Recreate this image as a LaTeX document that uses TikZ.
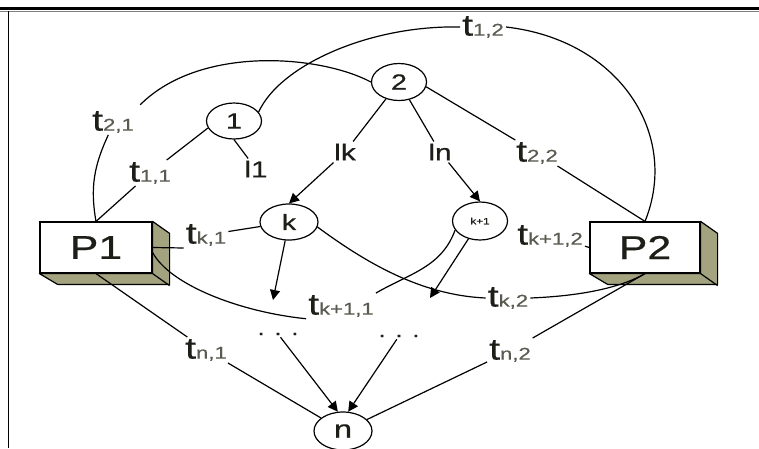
\documentclass[tikz,border=0pt]{standalone}
\usepackage{fontspec}
\setmainfont{Liberation Sans}
\newfontfamily\labfont[FakeStretch=1.3,FakeBold=0.6]{Liberation Sans}
\usetikzlibrary{shapes.geometric,arrows.meta}
\definecolor{boxside}{RGB}{163,163,128}
\definecolor{subgray}{RGB}{90,90,80}
\definecolor{ink}{RGB}{30,30,25}
\newcommand\tlab[1]{{\fontsize{30}{30}\selectfont t}{\fontsize{17}{17}\selectfont\color{subgray}#1}}
\begin{document}
\begin{tikzpicture}[x=1pt,y=1pt,
  place/.style={ellipse,draw,line width=1.2pt,inner sep=0pt,minimum width=55pt,minimum height=36pt,text=ink,font=\labfont\fontsize{22}{22}\selectfont},
  lab/.style={inner sep=2pt,text=ink,font=\labfont},
  proc/.style={draw,line width=1.2pt,fill=white,minimum width=112pt,minimum height=51pt,inner sep=0pt,text=ink,font=\labfont\fontsize{33}{33}\selectfont},
  conn/.style={line width=1.2pt},
  arr/.style={conn,-{Triangle[length=10pt,width=10pt]}},
  sidefill/.style={fill=boxside,draw=black,line width=1.2pt,line join=round}]
\useasboundingbox (0,0) rectangle (759,-448);
% frame
\draw[line width=3pt] (0,-8) -- (759,-8);
\draw[line width=1pt,gray] (0,-11) -- (759,-11);
\draw[line width=1pt] (8,-11) -- (8,-448);

% places
\node[place] (c1) at (234,-121) {1};
\node[place,minimum height=37pt] (c2) at (399,-82) {2};
\node[place,minimum width=58pt] (ck) at (289,-222) {k};
\node[place,minimum height=38pt,font=\labfont\fontsize{9}{9}\selectfont] (ck1) at (480,-221) {k+1};
\node[place,minimum width=58pt,minimum height=38pt,font=\labfont\fontsize{25}{25}\selectfont] (cn) at (343,-431) {n};

% processors
\node[proc] (P1) at (96,-247.5) {P1};
\draw[sidefill] (P1.north east) -- ++(17,-12) -- ++(0,-51) -- ++(-112,0) -- (P1.south west) -- (P1.south east) -- cycle;
\draw[line width=1.2pt] (P1.south east) -- ++(17,-12);
\node[proc,minimum width=110pt] (P2) at (645,-247.5) {P2};
\draw[sidefill] (P2.north east) -- ++(17,-12) -- ++(0,-51) -- ++(-110,0) -- (P2.south west) -- (P2.south east) -- cycle;
\draw[line width=1.2pt] (P2.south east) -- ++(17,-12);

% labels
\node[lab] (t11) at (150,-173) {\tlab{1,1}};
\node[lab] (t21) at (113,-122) {\tlab{2,1}};
\node[lab] (t12) at (483,-27) {\tlab{1,2}};
\node[lab] (t22) at (537,-153) {\tlab{2,2}};
\node[lab] (tk1) at (206,-235) {\tlab{k,1}};
\node[lab] (tk11) at (341,-306) {\tlab{k+1,1}};
\node[lab] (tk2) at (508,-298) {\tlab{k,2}};
\node[lab] (tk12) at (550,-236) {\tlab{k+1,2}};
\node[lab] (tn1) at (206,-350) {\tlab{n,1}};
\node[lab] (tn2) at (510,-351) {\tlab{n,2}};
\node[lab,font=\labfont\fontsize{23}{23}\selectfont] (l1) at (256,-169) {l1};
\node[lab,font=\labfont\fontsize{23}{23}\selectfont] (lk) at (345,-152) {lk};
\node[lab,font=\labfont\fontsize{23}{23}\selectfont] (ln) at (440,-152) {ln};
\node[lab,font=\labfont\fontsize{20}{20}\selectfont] (d1) at (278,-334) {. . .};
\node[lab,font=\labfont\fontsize{20}{20}\selectfont] (d2) at (399,-336) {. . .};
\coordinate (a1) at (273,-300);
\coordinate (a2) at (430,-298);

% connectors
\draw[conn] (P1.north) -- (t11);
\draw[conn] (t11) -- (c1.195);
\draw[conn] (c1.south) -- (l1);
\draw[conn] (c2) -- (lk);
\draw[arr] (lk) -- (ck.north);
\draw[conn] (c2) -- (ln);
\draw[arr] (ln) -- (ck1.north);
\draw[conn] (c2.-10) -- (t22);
\draw[conn] (t22) -- (P2.north);
% t1,2 arc
\draw[conn] (c1.20) .. controls (280,-65) and (370,-25) .. (t12.west);
\draw[conn] (t12.east) .. controls (620,-40) and (680,-135) .. (P2.north);
% t2,1 arc
\draw[conn,shorten >=6pt] (c2.west) .. controls (320,-55) and (200,-45) .. (t21.north east);
\draw[conn] (t21.250) to[out=-115,in=100] (P1.north);
% k,1
\draw[conn] (ck) -- (tk1);
\draw[conn] (tk1.south west) -- (P1.east);
% k+1,1
\draw[conn] (P1.-5) .. controls (170,-285) and (240,-312) .. (tk11.200);
\draw[conn] (tk11.north east) to[out=30,in=-110] (ck1.200);
% arrows down
\draw[arr] (ck) -- (a1);
\draw[arr] (ck1) -- (a2);
% k,2
\draw[conn] (ck.-10) .. controls (365,-262) and (420,-295) .. (tk2.west);
\draw[conn] (tk2.east) .. controls (580,-296) and (620,-288) .. (P2.south);
% k+1,2
\draw[conn] (tk12) -- (P2.west);
% n
\draw[conn] (P1.south) -- (tn1);
\draw[conn] (tn1) -- (cn);
\draw[conn] (P2.south) -- (tn2);
\draw[conn] (tn2) -- (cn);
\draw[arr] (d1) -- (cn.105);
\draw[arr] (d2) -- (cn.75);
\end{tikzpicture}
\end{document}
